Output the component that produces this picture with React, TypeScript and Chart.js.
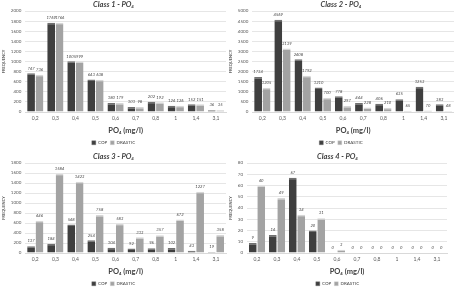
import React, { useEffect, useRef } from "react";
import { Chart, registerables } from "chart.js";

Chart.register(...registerables);

const categories = ["0,2", "0,3", "0,4", "0,5", "0,6", "0,7", "0,8", "1", "1,4", "3,1"];

const class1COP = [767, 1769, 1005, 643, 180, 101, 202, 126, 152, 36];
const class1DRASTIC = [736, 1766, 999, 638, 179, 98, 192, 126, 151, 35];

const class2COP = [1734, 4569, 2608, 1210, 778, 444, 406, 635, 1253, 383];
const class2DRASTIC = [1205, 3139, 1792, 700, 297, 228, 210, 65, 70, 48];

const class3COP = [137, 184, 568, 254, 104, 92, 96, 102, 43, 19];
const class3DRASTIC = [646, 1584, 1423, 758, 583, 313, 357, 672, 1227, 358];

const class4COP = [9, 16, 67, 20, 0, 0, 0, 0, 0, 0];
const class4DRASTIC = [60, 49, 34, 31, 3, 0, 0, 0, 0, 0];

const titles = ["Class 1 - PO₄", "Class 2 - PO₄", "Class 3 - PO₄", "Class 4 - PO₄"];
const yMax = [2000, 5000, 1800, 80];
const yStep = [200, 500, 200, 10];

const FONT = "Lato, 'Open Sans', sans-serif";

const labelPlugin = {
  id: "barLabels",
  afterDatasetsDraw(chart: any) {
    const ctx = chart.ctx;
    ctx.save();
    ctx.font = `italic 4.2px ${FONT}`;
    ctx.fillStyle = "#404040";
    ctx.textAlign = "center";
    ctx.textBaseline = "bottom";
    chart.data.datasets.forEach((ds: any, i: number) => {
      const meta = chart.getDatasetMeta(i);
      meta.data.forEach((bar: any, j: number) => {
        ctx.fillText(String(ds.data[j]), bar.x, bar.y - 3);
      });
    });
    ctx.restore();
  },
};

type Panel = {
  left: number; top: number; w: number; h: number;
  cop: number[]; dr: number[]; idx: number;
  pad: { left: number; right: number; top: number; bottom: number };
};

const panels: Panel[] = [
  { left: 0, top: 0, w: 227, h: 155, cop: class1COP, dr: class1DRASTIC, idx: 0, pad: { left: 1, right: 1, top: 0, bottom: 0 } },
  { left: 227, top: 0, w: 227, h: 155, cop: class2COP, dr: class2DRASTIC, idx: 1, pad: { left: 1, right: 0, top: 0, bottom: 0 } },
  { left: 0, top: 152, w: 227, h: 144, cop: class3COP, dr: class3DRASTIC, idx: 2, pad: { left: 1, right: 1, top: 0, bottom: 0 } },
  { left: 227, top: 152, w: 227, h: 144, cop: class4COP, dr: class4DRASTIC, idx: 3, pad: { left: 1, right: 7, top: 0, bottom: 0 } },
];

function BarPanel({ p }: { p: Panel }) {
  const ref = useRef<HTMLCanvasElement>(null);
  useEffect(() => {
    if (!ref.current) return;
    const chart = new Chart(ref.current, {
      type: "bar",
      data: {
        labels: categories,
        datasets: [
          {
            label: "COP",
            data: p.cop,
            backgroundColor: "#3f3f3f",
            borderColor: "#707070",
            borderWidth: { top: 1.5, left: 0, right: 0, bottom: 0 },
            borderSkipped: false,
            categoryPercentage: 0.84,
            barPercentage: 0.92,
          },
          {
            label: "DRASTIC",
            data: p.dr,
            backgroundColor: "#a3a3a3",
            borderColor: "#d6d6d6",
            borderWidth: { top: 1.5, left: 0, right: 0, bottom: 0 },
            borderSkipped: false,
            categoryPercentage: 0.84,
            barPercentage: 0.92,
          },
        ],
      },
      options: {
        responsive: false,
        animation: false,
        devicePixelRatio: 1,
        layout: { padding: p.pad },
        plugins: {
          title: {
            display: true,
            text: titles[p.idx],
            color: "#404040",
            font: { family: FONT, size: 7.5, weight: "bold", style: "italic" },
            padding: { top: 0.5, bottom: 1.5 },
          },
          legend: {
            position: "bottom",
            labels: {
              boxWidth: 4,
              boxHeight: 4,
              padding: 3,
              color: "#404040",
              font: { family: FONT, size: 4.5 },
            },
          },
          tooltip: { enabled: false },
        },
        scales: {
          x: {
            grid: { display: false, drawTicks: false },
            border: { color: "#d9d9d9" },
            ticks: { color: "#595959", font: { family: FONT, size: 5 }, padding: 3, maxRotation: 0 },
            title: {
              display: true,
              text: "PO₄ (mg/l)",
              color: "#404040",
              font: { family: FONT, size: 7.5, weight: "bold" },
              padding: { top: 2, bottom: 2.5 },
            },
          },
          y: {
            min: 0,
            max: yMax[p.idx],
            grid: { color: "#e6e6e6", drawTicks: false },
            border: { display: false },
            ticks: {
              stepSize: yStep[p.idx],
              color: "#595959",
              font: { family: FONT, size: 4.5 },
              padding: 4,
              callback: (v: any) => String(v),
            },
            title: {
              display: true,
              text: "FREQUENCY",
              color: "#404040",
              font: { family: FONT, size: 4 },
              padding: { top: 0, bottom: 1 },
            },
          },
        },
      },
      plugins: [labelPlugin],
    });
    return () => chart.destroy();
  }, [p]);
  return (
    <canvas
      ref={ref}
      width={p.w}
      height={p.h}
      style={{ position: "absolute", left: p.left, top: p.top, width: p.w, height: p.h }}
    />
  );
}

export default function App() {
  return (
    <div style={{ position: "absolute", left: 0, top: 0, width: 454, height: 296, background: "#fff", overflow: "hidden" }}>
      {panels.map((p) => (
        <BarPanel key={p.idx} p={p} />
      ))}
    </div>
  );
}
